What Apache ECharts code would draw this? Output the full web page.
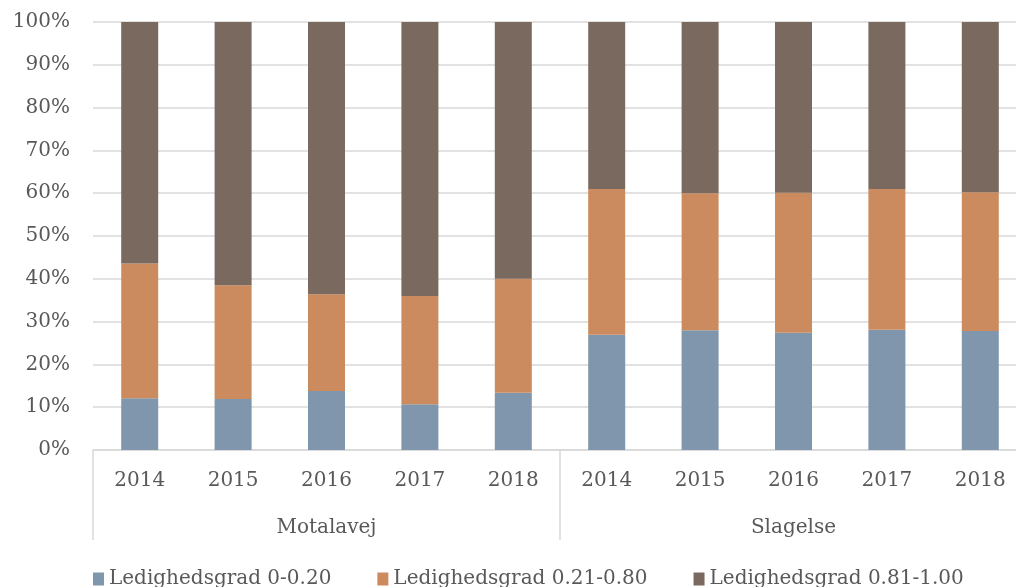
<!DOCTYPE html>
<html>
<head>
<meta charset="utf-8">
<script src="https://cdn.jsdelivr.net/npm/echarts@6/dist/echarts.min.js"></script>
<style>
  html, body { margin: 0; padding: 0; background: #fff; overflow: hidden; }
  #chart { width: 1016px; height: 587px; }
</style>
</head>
<body>
<div id="chart"></div>
<script>
// kategorier
const years = ['2014', '2015', '2016', '2017', '2018', '2014', '2015', '2016', '2017', '2018'];
const groups = ['Motalavej', 'Slagelse'];
const seriesNames = ['Ledighedsgrad 0-0.20', 'Ledighedsgrad 0.21-0.80', 'Ledighedsgrad 0.81-1.00'];
// andele i procent
const low = [12.1, 11.9, 13.8, 10.7, 13.4, 26.9, 28.0, 27.4, 28.1, 27.8];
const mid = [31.5, 26.6, 22.6, 25.3, 26.6, 34.1, 32.0, 32.7, 32.9, 32.4];
const high = [56.4, 61.5, 63.6, 64.0, 60.0, 39.0, 40.0, 39.9, 39.0, 39.8];

const colors = ['#7f96ad', '#cc8b5e', '#7a695e'];
const font = 'DejaVu Serif';
const textColor = '#595959';
const lineColor = '#d9d9d9';

const myChart = echarts.init(document.getElementById('chart'));
const option = {
  color: colors,
  animation: false,
  textStyle: { fontFamily: font },
  // plottet fortsætter lidt ud over højre kant, som i originalen
  grid: { left: 93, width: 934, top: 22, bottom: 137, containLabel: false, outerBoundsMode: 'none' },
  legend: {
    data: seriesNames,
    top: 564,
    left: 88,
    icon: 'rect',
    itemWidth: 11,
    itemHeight: 13,
    itemGap: 46,
    textStyle: { fontFamily: font, fontSize: 20, color: textColor }
  },
  xAxis: [{
      type: 'category',
      data: years,
      axisLine: { lineStyle: { color: lineColor, width: 1.5 } },
      axisTick: { show: false },
      axisLabel: { fontFamily: font, fontSize: 20, color: textColor, margin: 21, interval: 0 }
    },
    {
      type: 'category',
      data: groups,
      position: 'bottom',
      axisLine: { show: false },
      axisTick: { show: true, length: 90, interval: 0, lineStyle: { color: lineColor, width: 1.5 } },
      axisLabel: { fontFamily: font, fontSize: 20, color: textColor, margin: 68, interval: 0 }
    }
  ],
  yAxis: {
    type: 'value',
    min: 0,
    max: 100,
    interval: 10,
    axisLine: { show: false },
    axisTick: { show: false },
    splitLine: { lineStyle: { color: lineColor, width: 1.5 } },
    axisLabel: { formatter: '{value}%', fontFamily: font, fontSize: 20, color: textColor, margin: 23 }
  },
  series: [{
      name: seriesNames[0],
      type: 'bar',
      stack: 'total',
      barWidth: 37,
      data: low
    },
    {
      name: seriesNames[1],
      type: 'bar',
      stack: 'total',
      barWidth: 37,
      data: mid
    },
    {
      name: seriesNames[2],
      type: 'bar',
      stack: 'total',
      barWidth: 37,
      data: high
    }
  ]
};
myChart.setOption(option);
</script>
</body>
</html>
